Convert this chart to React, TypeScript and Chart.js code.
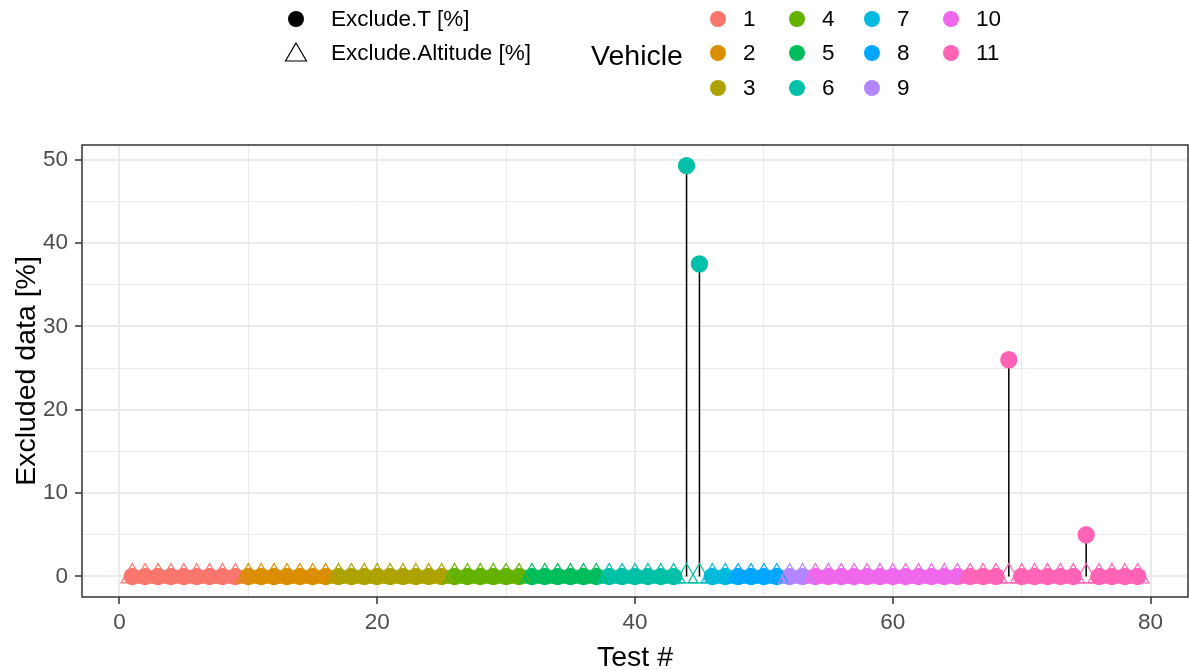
import React, { useEffect, useRef } from 'react';
import { Chart, registerables } from 'chart.js';

Chart.register(...registerables);

// ---------- data ----------
const tests = [
  1, 2, 3, 4, 5, 6, 7, 8, 9, 10, 11, 12, 13, 14, 15, 16, 17, 18, 19, 20,
  21, 22, 23, 24, 25, 26, 27, 28, 29, 30, 31, 32, 33, 34, 35, 36, 37, 38, 39, 40,
  41, 42, 43, 44, 45, 46, 47, 48, 49, 50, 51, 52, 53, 54, 55, 56, 57, 58, 59, 60,
  61, 62, 63, 64, 65, 66, 67, 68, 69, 70, 71, 72, 73, 74, 75, 76, 77, 78, 79,
];
const vehicle = [
  1, 1, 1, 1, 1, 1, 1, 1, 1,
  2, 2, 2, 2, 2, 2, 2,
  3, 3, 3, 3, 3, 3, 3, 3, 3,
  4, 4, 4, 4, 4, 4,
  5, 5, 5, 5, 5, 5,
  6, 6, 6, 6, 6, 6, 6, 6,
  7, 7,
  8, 8, 8, 8,
  9, 9,
  10, 10, 10, 10, 10, 10, 10, 10, 10, 10, 10, 10,
  11, 11, 11, 11, 11, 11, 11, 11, 11, 11, 11, 11, 11, 11,
];
const excludeT = [
  0, 0, 0, 0, 0, 0, 0, 0, 0, 0, 0, 0, 0, 0, 0, 0, 0, 0, 0, 0,
  0, 0, 0, 0, 0, 0, 0, 0, 0, 0, 0, 0, 0, 0, 0, 0, 0, 0, 0, 0,
  0, 0, 0, 49.3, 37.5, 0, 0, 0, 0, 0, 0, 0, 0, 0, 0, 0, 0, 0, 0, 0,
  0, 0, 0, 0, 0, 0, 0, 0, 26.0, 0, 0, 0, 0, 0, 5.0, 0, 0, 0, 0,
];
const excludeAltitude = [
  0, 0, 0, 0, 0, 0, 0, 0, 0, 0, 0, 0, 0, 0, 0, 0, 0, 0, 0, 0,
  0, 0, 0, 0, 0, 0, 0, 0, 0, 0, 0, 0, 0, 0, 0, 0, 0, 0, 0, 0,
  0, 0, 0, 0, 0, 0, 0, 0, 0, 0, 0, 0, 0, 0, 0, 0, 0, 0, 0, 0,
  0, 0, 0, 0, 0, 0, 0, 0, 0, 0, 0, 0, 0, 0, 0, 0, 0, 0, 0,
];
const vehicleLabels = ['1', '2', '3', '4', '5', '6', '7', '8', '9', '10', '11'];
const vehicleColors = [
  '#F8766D', '#DB8E00', '#AEA200', '#64B200', '#00BD5C', '#00C1A7',
  '#00BADE', '#00A6FF', '#B385FF', '#EF67EB', '#FF63B6',
];
const xTickLabels = [0, 20, 40, 60, 80];
const yTickLabels = [0, 10, 20, 30, 40, 50];
const seriesLabels = ['Exclude.T [%]', 'Exclude.Altitude [%]'];

const FONT = '"Liberation Sans", Arial, Helvetica, sans-serif';
const TICK_SIZE = 22.5;
const TITLE_SIZE = 28.5;

const panelBorder = {
  id: 'panelBorder',
  afterDatasetsDraw(chart: any) {
    const { ctx, chartArea } = chart;
    ctx.save();
    ctx.strokeStyle = '#333333';
    ctx.lineWidth = 1.5;
    ctx.strokeRect(chartArea.left, chartArea.top, chartArea.right - chartArea.left, chartArea.bottom - chartArea.top);
    ctx.restore();
  },
};

function ChartCanvas() {
  const ref = useRef<HTMLCanvasElement | null>(null);
  useEffect(() => {
    if (!ref.current) return;
    const colorOf = (i: number) => vehicleColors[vehicle[i] - 1];

    const segData: any[] = [];
    tests.forEach((t, i) => {
      if (excludeT[i] > 0) {
        segData.push({ x: t, y: 0 });
        segData.push({ x: t, y: excludeT[i] });
        segData.push({ x: t + 0.01, y: null });
      }
    });

    const isMajor = (v: number, step: number) => Math.abs(v % step) < 1e-9;

    const chart = new Chart(ref.current, {
      type: 'scatter',
      data: {
        datasets: [
          {
            label: seriesLabels[1],
            data: tests.map((t, i) => ({ x: t, y: excludeAltitude[i] })),
            pointStyle: 'triangle',
            pointRadius: 13,
            pointBackgroundColor: 'rgba(0,0,0,0)',
            pointBorderColor: tests.map((_, i) => colorOf(i)),
            pointBorderWidth: 1.2,
          } as any,
          {
            label: seriesLabels[0],
            data: tests.map((t, i) => ({ x: t, y: excludeT[i] })),
            pointStyle: 'circle',
            pointRadius: 8.7,
            pointBackgroundColor: tests.map((_, i) => colorOf(i)),
            pointBorderColor: tests.map((_, i) => colorOf(i)),
            pointBorderWidth: 0,
          } as any,
          {
            type: 'line',
            label: 'segments',
            data: segData,
            borderColor: '#000000',
            borderWidth: 1.5,
            pointRadius: 0,
            spanGaps: false,
            fill: false,
          } as any,
        ],
      },
      options: {
        animation: false,
        responsive: false,
        events: [],
        layout: { autoPadding: false, padding: { left: 0, top: 145, right: 1, bottom: 0 } },
        plugins: { legend: { display: false }, tooltip: { enabled: false } },
        scales: {
          x: {
            type: 'linear',
            min: -2.9,
            max: 82.9,
            afterFit: (s: any) => { s.height = 73; s.paddingLeft = 0; s.paddingRight = 0; },
            ticks: {
              stepSize: 10,
              includeBounds: false,
              autoSkip: false,
              maxRotation: 0,
              padding: 5,
              color: '#4D4D4D',
              font: { family: FONT, size: TICK_SIZE },
              callback: (v: any) => (xTickLabels.includes(Number(v)) ? String(v) : ''),
            },
            grid: {
              color: '#EBEBEB',
              lineWidth: (c: any) => (c.tick && isMajor(c.tick.value, 20) ? 2 : 1),
              tickColor: (c: any) => (c.tick && isMajor(c.tick.value, 20) ? '#333333' : 'rgba(0,0,0,0)'),
              tickWidth: 1.5,
              tickLength: 7,
            },
            border: { display: false },
            title: {
              display: true,
              text: 'Test #',
              color: '#000000',
              font: { family: FONT, size: TITLE_SIZE },
              padding: { top: 0, bottom: -5 },
            },
          },
          y: {
            type: 'linear',
            min: -2.465,
            max: 51.77,
            afterFit: (s: any) => { s.width = 82; s.paddingTop = 0; s.paddingBottom = 0; },
            ticks: {
              stepSize: 5,
              includeBounds: false,
              autoSkip: false,
              padding: 7,
              color: '#4D4D4D',
              font: { family: FONT, size: TICK_SIZE },
              callback: (v: any) => (yTickLabels.includes(Number(v)) ? String(v) : ''),
            },
            grid: {
              color: '#EBEBEB',
              lineWidth: (c: any) => (c.tick && isMajor(c.tick.value, 10) ? 2 : 1),
              tickColor: (c: any) => (c.tick && isMajor(c.tick.value, 10) ? '#333333' : 'rgba(0,0,0,0)'),
              tickWidth: 1.5,
              tickLength: 7,
            },
            border: { display: false },
            title: {
              display: true,
              text: 'Excluded data [%]',
              color: '#000000',
              font: { family: FONT, size: TITLE_SIZE },
              padding: { top: 10, bottom: 0 },
            },
          },
        },
      },
      plugins: [panelBorder],
    } as any);
    return () => chart.destroy();
  }, []);
  return <canvas ref={ref} width={1189} height={670} style={{ position: 'absolute', left: 0, top: 0 }} />;
}

function Legend() {
  const txt: React.CSSProperties = {
    position: 'absolute',
    fontFamily: FONT,
    fontSize: TICK_SIZE,
    color: '#000',
    lineHeight: '26px',
    whiteSpace: 'nowrap',
  };
  const colX = [718, 797, 872, 951];
  const rowY = [19, 53, 88];
  const items = vehicleLabels.map((lab, i) => {
    const col = Math.floor(i / 3);
    const row = i % 3;
    const cx = colX[col];
    const cy = rowY[row];
    return (
      <React.Fragment key={lab}>
        <div
          style={{
            position: 'absolute',
            left: cx - 8,
            top: cy - 8,
            width: 16,
            height: 16,
            borderRadius: '50%',
            background: vehicleColors[i],
          }}
        />
        <div style={{ ...txt, left: cx + 25, top: cy - 13 }}>{lab}</div>
      </React.Fragment>
    );
  });
  return (
    <>
      <div
        style={{
          position: 'absolute',
          left: 288,
          top: 11,
          width: 16,
          height: 16,
          borderRadius: '50%',
          background: '#000',
        }}
      />
      <div style={{ ...txt, left: 331, top: 6 }}>{seriesLabels[0]}</div>
      <svg style={{ position: 'absolute', left: 280, top: 38 }} width={32} height={28}>
        <polygon points="16,5 26.5,23 5.5,23" fill="none" stroke="#000" strokeWidth={1.2} />
      </svg>
      <div style={{ ...txt, left: 331, top: 40 }}>{seriesLabels[1]}</div>
      <div style={{ ...txt, fontSize: TITLE_SIZE, left: 591, top: 38, lineHeight: '34px' }}>Vehicle</div>
      {items}
    </>
  );
}

export default function App() {
  return (
    <div style={{ position: 'absolute', left: 0, top: 0, width: 1189, height: 670, background: '#fff', overflow: 'hidden' }}>
      <ChartCanvas />
      <Legend />
    </div>
  );
}
